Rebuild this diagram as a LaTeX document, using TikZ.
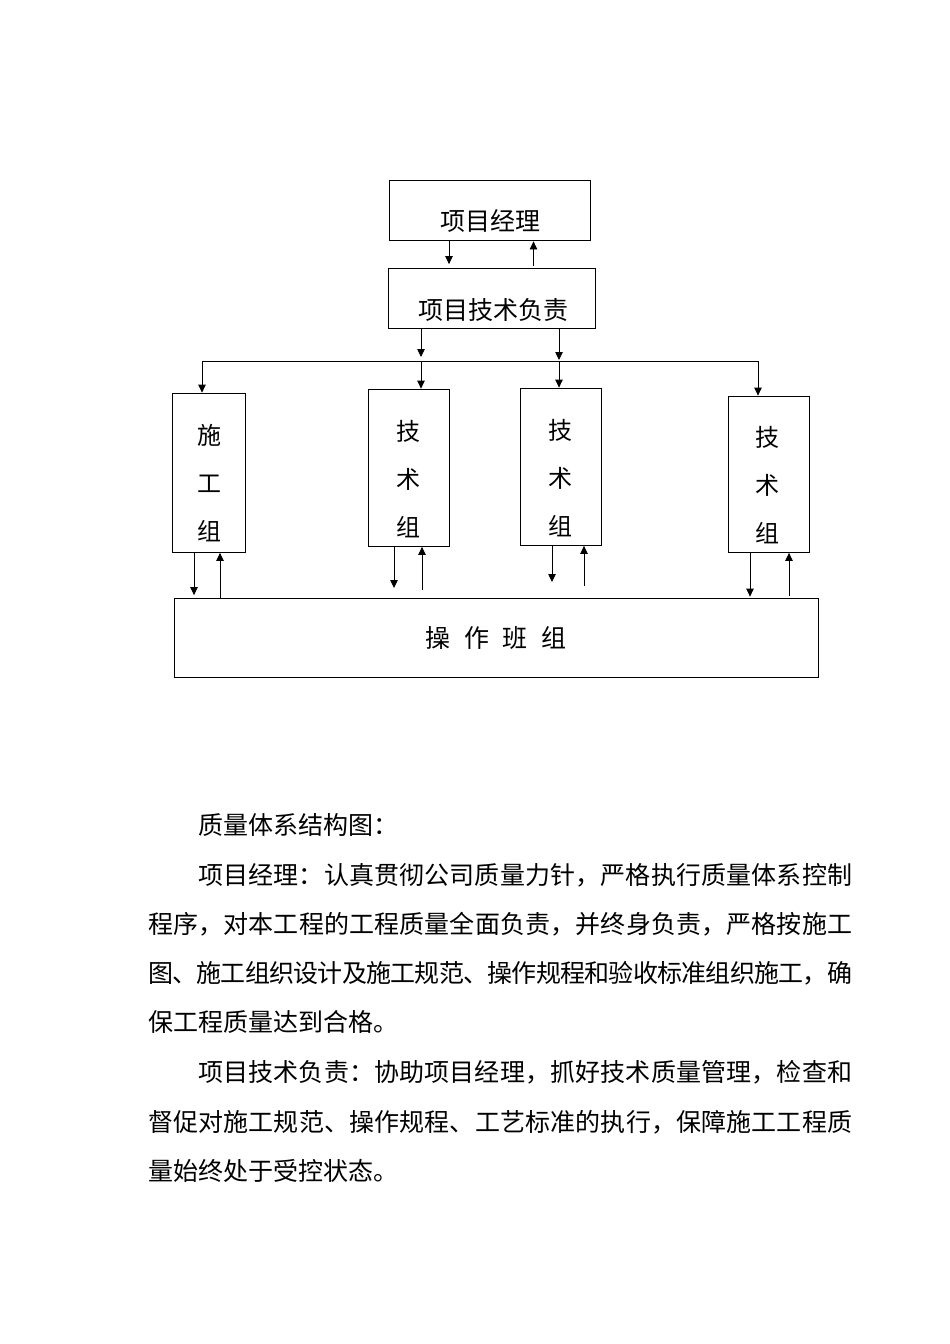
\documentclass[tikz,border=0pt]{standalone}
\usepackage{fontspec}
\setmainfont{Noto Sans CJK SC}
\usetikzlibrary{arrows.meta}
\def\spr#1{\ifx\relax#1\else#1\hskip 0pt plus 1fil minus 1pt\expandafter\spr\fi}
\newcommand\jline[2]{\hbox to #1{\spr#2\relax\unskip}}
\begin{document}
\begin{tikzpicture}[x=1pt,y=-1pt,
  box/.style={draw,line width=0.8pt,inner sep=0pt},
  lbl/.style={font=\fontsize{25}{25}\selectfont,inner sep=0pt},
  vlbl/.style={font=\fontsize{24}{48}\selectfont,align=center,inner sep=0pt},
  body/.style={font=\fontsize{25}{25}\selectfont,inner sep=0pt,anchor=base west},
  conn/.style={line width=0.8pt},
  arr/.style={conn,-{Triangle[length=8pt,width=7.5pt]}}]
\fill[white] (0,0) rectangle (950,1344);
\useasboundingbox (0,0) rectangle (950,1344);

% boxes
\node[box,minimum width=201pt,minimum height=60pt] (pm) at (489.5,210) {};
\node[lbl] (pmT) at (490,221) {项目经理};
\node[box,minimum width=207pt,minimum height=60pt] (tl) at (491.5,298) {};
\node[lbl] (tlT) at (493,310) {项目技术负责};

\node[box,minimum width=73pt,minimum height=159pt] (g0) at (208.5,472.5) {};
\node[vlbl] (g0T) at (209,483) {施\\工\\组};
\node[box,minimum width=81pt,minimum height=157pt] (g1) at (408.5,467.5) {};
\node[vlbl] (g1T) at (408.5,479) {技\\术\\组};
\node[box,minimum width=81pt,minimum height=157pt] (g2) at (560.5,466.5) {};
\node[vlbl] (g2T) at (560,478) {技\\术\\组};
\node[box,minimum width=81pt,minimum height=156pt] (g3) at (768.5,474) {};
\node[vlbl] (g3T) at (767.5,485.5) {技\\术\\组};

\node[box,minimum width=644pt,minimum height=79pt] (op) at (496,637.5) {};
\node[lbl] (opT) at (496,638) {操\hspace{13.5pt}作\hspace{13.5pt}班\hspace{13.5pt}组};

% x positions
\coordinate (xa) at (449,0);
\coordinate (xb) at (533.5,0);
\coordinate (xc) at (421,0);
\coordinate (xd) at (559,0);
\coordinate (busL) at (202,361);
\coordinate (busR) at (758,361);

% top arrows
\draw[arr,shorten >=3.5pt] (pm.south -| xa) -- (tl.north -| xa);
\draw[arr,shorten <=2pt,shorten >=1pt] (tl.north -| xb) -- (pm.south -| xb);
\draw[arr,shorten >=4pt] (tl.south -| xc) -- (busL -| xc);
\draw[arr,shorten >=1pt] (tl.south -| xd) -- (busL -| xd);

% bus
\draw[conn] (busL) -- (busR);
\draw[arr] (busL) -- (g0.north -| busL);
\draw[arr] (busL -| xc) -- (g1.north -| xc);
\draw[arr] (busL -| xd) -- (g2.north -| xd);
\draw[arr] (busR) -- (g3.north -| busR);

% bottom arrows
\coordinate (e0d) at (194,0);
\coordinate (e0u) at (220,0);
\coordinate (f1d) at (394,588);
\coordinate (f1u) at (422,590);
\coordinate (f2d) at (552,582);
\coordinate (f2u) at (584,586);
\coordinate (e3d) at (750,0);
\coordinate (e3u) at (789,0);
\draw[arr,shorten >=2.5pt] (g0.south -| e0d) -- (op.north -| e0d);
\draw[arr,shorten >=0.5pt] (op.north -| e0u) -- (g0.south -| e0u);
\draw[arr] (g1.south -| f1d) -- (f1d);
\draw[arr,shorten >=0.5pt] (f1u) -- (g1.south -| f1u);
\draw[arr] (g2.south -| f2d) -- (f2d);
\draw[arr,shorten >=0.5pt] (f2u) -- (g2.south -| f2u);
\draw[arr,shorten >=1pt] (g3.south -| e3d) -- (op.north -| e3d);
\draw[arr,shorten <=2pt,shorten >=0.5pt] (op.north -| e3u) -- (g3.south -| e3u);

% body text
\node[body] (t0) at (198,834.5) {质量体系结构图：};
\node[body] (t1) at (198,884.5) {\jline{654pt}{项目经理：认真贯彻公司质量力针，严格执行质量体系控制}};
\node[body] (t2) at (148,933.5) {\jline{704pt}{程序，对本工程的工程质量全面负责，并终身负责，严格按施工}};
\node[body] (t3) at (148,982.5) {\jline{704pt}{图、施工组织设计及施工规范、操作规程和验收标准组织施工，确}};
\node[body] (t4) at (148,1031.5) {保工程质量达到合格。};
\node[body] (t5) at (198,1081.5) {\jline{654pt}{项目技术负责：协助项目经理，抓好技术质量管理，检查和}};
\node[body] (t6) at (148,1131.5) {\jline{704pt}{督促对施工规范、操作规程、工艺标准的执行，保障施工工程质}};
\node[body] (t7) at (148,1180.5) {量始终处于受控状态。};
\end{tikzpicture}
\end{document}
